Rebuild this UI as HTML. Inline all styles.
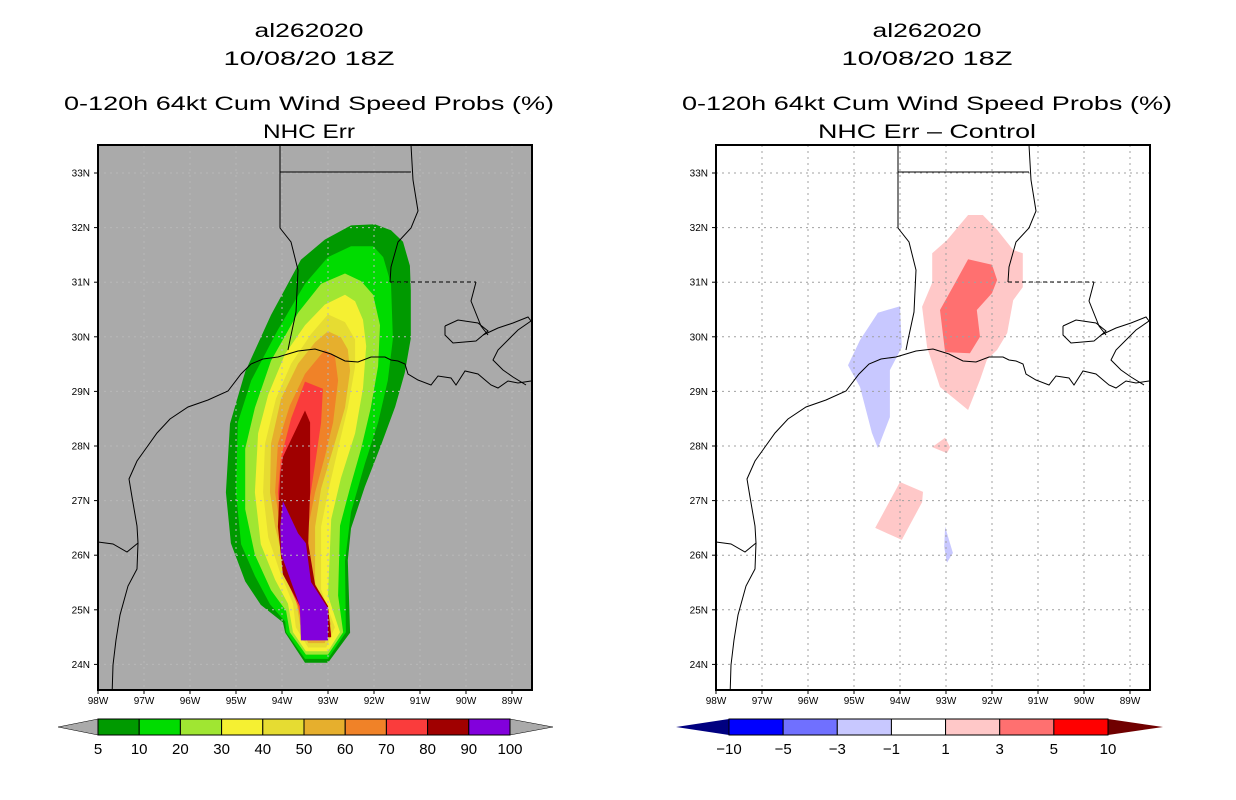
<!DOCTYPE html>
<html><head><meta charset="utf-8">
<style>
html,body{margin:0;padding:0;background:#fff;}
svg{display:block;font-family:"Liberation Sans",sans-serif;}
</style></head>
<body>
<svg id="fig" width="1236" height="800" viewBox="0 0 1236 800" xmlns="http://www.w3.org/2000/svg">
<rect width="1236" height="800" fill="#fff"/>
<g id="L"></g>
<g id="R"></g>
</svg>
<script>
// ---- data ----
var probLevels = [5,10,20,30,40,50,60,70,80,90,100];
var probColors = ['#009a00','#00dc00','#a0e632','#f5f032','#e6dc32','#e6af2d','#f08228','#fa3c3c','#a00000','#8200dc'];
var p5  = [[-92.50,32.04],[-91.98,32.06],[-91.63,31.95],[-91.37,31.74],[-91.22,31.30],[-91.20,30.85],[-91.20,29.97],[-91.33,29.34],[-91.54,28.72],[-91.85,28.01],[-92.20,27.25],[-92.50,26.49],[-92.57,25.91],[-92.52,24.58],[-93.00,24.03],[-93.50,24.03],[-93.93,24.58],[-93.98,24.77],[-94.46,25.09],[-94.80,25.52],[-95.11,26.22],[-95.22,27.15],[-95.13,28.41],[-94.80,29.36],[-94.24,30.40],[-93.59,31.41],[-93.07,31.78]];
var p10 = [[-92.50,31.66],[-92.02,31.66],[-91.80,31.46],[-91.63,30.97],[-91.59,29.96],[-91.70,29.20],[-91.91,28.43],[-92.20,27.67],[-92.50,26.79],[-92.63,25.89],[-92.61,24.59],[-93.00,24.10],[-93.50,24.10],[-93.91,24.59],[-93.93,24.78],[-94.26,25.10],[-94.59,25.62],[-94.89,26.20],[-95.00,27.15],[-94.96,28.43],[-94.67,29.20],[-94.09,30.13],[-93.50,30.97],[-93.00,31.46]];
var p20 = [[-92.63,31.16],[-92.28,31.02],[-92.02,30.77],[-91.87,30.21],[-91.91,29.46],[-92.07,28.70],[-92.28,27.95],[-92.50,27.30],[-92.74,26.54],[-92.78,25.26],[-92.67,24.59],[-93.00,24.18],[-93.48,24.18],[-93.83,24.59],[-93.91,24.98],[-94.24,25.36],[-94.59,26.01],[-94.80,26.84],[-94.80,27.95],[-94.59,28.70],[-94.24,29.56],[-93.65,30.44],[-93.15,30.97]];
var p30 = [[-92.63,30.77],[-92.41,30.65],[-92.24,30.31],[-92.17,29.83],[-92.24,29.06],[-92.41,28.23],[-92.72,27.41],[-92.93,26.66],[-93.00,25.26],[-92.74,24.59],[-93.00,24.24],[-93.48,24.24],[-93.76,24.59],[-93.87,25.11],[-94.15,25.55],[-94.46,26.20],[-94.59,27.15],[-94.52,28.23],[-94.30,28.94],[-93.93,29.69],[-93.50,30.21],[-93.07,30.59]];
var p40 = [[-93.00,30.41],[-92.63,30.27],[-92.41,29.95],[-92.41,29.45],[-92.57,28.70],[-92.78,27.95],[-93.00,27.15],[-93.15,26.52],[-93.15,25.37],[-92.85,24.68],[-93.04,24.31],[-93.43,24.31],[-93.70,24.68],[-93.76,25.11],[-94.04,25.68],[-94.30,26.33],[-94.41,27.15],[-94.37,28.04],[-94.13,28.87],[-93.80,29.51],[-93.37,30.05]];
var p50 = [[-93.00,30.10],[-92.72,29.99],[-92.57,29.77],[-92.52,29.38],[-92.63,28.70],[-92.89,27.95],[-93.15,27.22],[-93.28,26.52],[-93.28,25.50],[-92.93,24.74],[-93.07,24.39],[-93.43,24.39],[-93.61,24.74],[-93.70,25.19],[-93.93,25.76],[-94.15,26.52],[-94.26,27.15],[-94.24,28.04],[-94.02,28.87],[-93.65,29.51],[-93.28,29.90]];
var p60 = [[-93.07,29.76],[-92.85,29.65],[-92.78,29.20],[-92.89,28.43],[-93.07,27.80],[-93.28,27.15],[-93.43,26.52],[-93.39,25.57],[-93.00,24.80],[-93.11,24.44],[-93.39,24.44],[-93.59,24.80],[-93.65,25.26],[-93.87,25.89],[-94.04,26.52],[-94.15,27.15],[-94.09,28.04],[-93.83,28.74],[-93.50,29.32]];
var p70 = [[-93.50,29.18],[-93.11,29.05],[-93.15,28.43],[-93.28,27.67],[-93.43,26.84],[-93.48,25.89],[-93.33,25.37],[-93.00,25.00],[-92.93,24.53],[-93.50,24.44],[-93.65,25.07],[-93.91,25.57],[-94.02,26.22],[-94.09,27.15],[-94.02,27.80],[-93.80,28.51]];
var p80 = [[-93.50,28.65],[-93.39,28.43],[-93.39,27.15],[-93.43,26.22],[-93.28,25.46],[-93.00,25.07],[-92.93,24.50],[-93.54,24.44],[-93.61,25.07],[-93.98,25.65],[-94.09,26.52],[-94.04,27.48],[-93.98,27.80]];
var p90 = [[-93.98,26.99],[-93.65,26.40],[-93.48,26.22],[-93.37,25.51],[-93.00,25.03],[-93.00,24.44],[-93.59,24.44],[-93.61,25.07],[-94.02,26.02],[-94.04,26.52]];
var probContours = [p5,p10,p20,p30,p40,p50,p60,p70,p80,p90];

var diffLevels = ['−10','−5','−3','−1','1','3','5','10'];
var diffColors = ['#0000ff','#7070ff','#c8c8ff','#ffffff','#ffc8c8','#ff7070','#ff0000'];
var dPos1a = [[-92.52,32.23],[-92.20,32.23],[-91.89,31.96],[-91.54,31.59],[-91.33,31.53],[-91.33,30.91],[-91.54,30.67],[-91.67,30.07],[-91.89,29.76],[-92.11,29.58],[-92.26,29.21],[-92.52,28.66],[-93.13,29.08],[-93.41,29.81],[-93.52,30.55],[-93.30,30.99],[-93.30,31.53],[-92.98,31.77]];
var dPos1b = [[-93.30,27.98],[-93.02,28.15],[-92.91,27.98],[-92.98,27.87]];
var dPos1c = [[-94.00,27.34],[-93.50,27.16],[-93.52,26.97],[-93.96,26.28],[-94.54,26.50]];
var dPos3 = [[-92.52,31.42],[-92.00,31.32],[-91.89,31.04],[-92.00,30.80],[-92.33,30.49],[-92.26,30.00],[-92.48,29.70],[-93.02,29.72],[-93.13,30.49],[-92.80,30.99]];
var dNeg1a = [[-94.00,30.56],[-93.96,29.81],[-94.22,29.39],[-94.22,28.53],[-94.48,27.96],[-94.61,28.24],[-94.87,29.08],[-95.13,29.48],[-94.87,29.94],[-94.48,30.44]];
var dNeg1b = [[-93.02,26.52],[-92.85,26.04],[-92.98,25.86],[-93.04,26.15]];
var diffShapes = [[dPos1a,'#ffc8c8'],[dPos1b,'#ffc8c8'],[dPos1c,'#ffc8c8'],[dNeg1a,'#c8c8ff'],[dNeg1b,'#c8c8ff'],[dPos3,'#ff7070']];

var latTicks = [33,32,31,30,29,28,27,26,25,24];
var lonTicks = [98,97,96,95,94,93,92,91,90,89];

// map outline polylines (pixel offsets relative to panel frame origin at x=98,y=145)
var coastTX = [[14,552],[15,520],[18,495],[22,470],[30,441],[39,424],[40,398],[39,381],[34,352],[31,334],[39,316],[49,302],[59,288],[72,274],[90,262],[110,255],[130,246],[143,229],[153,219],[165,214],[180,212],[190,209],[200,206],[217,204],[233,209],[247,216],[260,217],[273,212],[287,212],[293,215],[300,216],[307,219],[310,229],[320,235],[333,240],[340,231],[353,233],[358,240],[367,226],[380,229],[393,240],[400,243],[410,236],[420,238],[433,236]];
var riverRio = [[0,397],[15,399],[29,407],[40,398]];
var sabine = [[182,0],[182,83],[193,97],[200,125],[198,167],[192,195],[190,205]];
var arkLine = [[182,27],[313,27]];
var missR = [[313,0],[315,35],[320,66],[313,83],[300,97],[293,122],[292,137]];
var laMs = [[292,137],[378,137]];
var pearl = [[378,137],[373,156],[383,181],[390,190]];
var lakeP = [[347,181],[360,175],[380,178],[390,186],[378,196],[355,198],[347,190],[347,181]];
var delta = [[385,190],[400,183],[415,178],[430,172],[433,176],[420,185],[410,195],[400,205],[395,215],[405,225],[415,232],[428,240]];

function proj(ox){
  return {x:function(lon){return ox+(lon+98)*46;}, y:function(lat){return 173+(33-lat)*54.6;}};
}
var NS='http://www.w3.org/2000/svg';
function mk(tag,attrs,parent){var e=document.createElementNS(NS,tag);for(var k in attrs)e.setAttribute(k,attrs[k]);parent.appendChild(e);return e;}
function ptsLL(arr,P){return arr.map(function(p){return P.x(p[0]).toFixed(1)+','+P.y(p[1]).toFixed(1);}).join(' ');}
function ptsPx(arr,ox){return arr.map(function(p){return (ox+p[0])+','+(145+p[1]);}).join(' ');}

function panel(g,ox,gray,sub){
  var P=proj(ox);
  var W=434,H=545,top=145;
  var clipId='clip'+ox;
  var defs=mk('defs',{},g);
  var cp=mk('clipPath',{id:clipId},defs);
  mk('rect',{x:ox,y:top,width:W,height:H},cp);
  var bg=mk('rect',{x:ox,y:top,width:W,height:H,fill:gray?'#aaaaaa':'#ffffff'},g);
  
  
  var body=mk('g',{'clip-path':'url(#'+clipId+')'},g);
  if(gray){
    probContours.forEach(function(c,i){
      var pg=mk('polygon',{points:ptsLL(c,P),fill:probColors[i]},body);
      
      
    });
  } else {
    diffShapes.forEach(function(s,i){
      var pg=mk('polygon',{points:ptsLL(s[0],P),fill:s[1]},body);
      
      
    });
  }
  // grid
  lonTicks.forEach(function(l){
    var x=P.x(-l);
    var gl=mk('line',{x1:x,y1:top,x2:x,y2:top+H,stroke:gray?'#b8b8b8':'#a0a0a0','stroke-width':1,'stroke-dasharray':'2,4'},body);
    
    
  });
  latTicks.forEach(function(l){
    var y=P.y(l);
    var gl=mk('line',{x1:ox,y1:y,x2:ox+W,y2:y,stroke:gray?'#b8b8b8':'#a0a0a0','stroke-width':1,'stroke-dasharray':'2,4'},body);
    
    
  });
  // map lines
  var ml=mk('g',{fill:'none',stroke:'#000','stroke-width':1},body);
  
  
  [coastTX,riverRio,sabine,arkLine,missR,pearl,lakeP,delta].forEach(function(a){mk('polyline',{points:ptsPx(a,ox)},ml);});
  mk('polyline',{points:ptsPx(laMs,ox),'stroke-dasharray':'4,3'},ml);
  // frame
  var fr=mk('rect',{x:ox,y:top,width:W,height:H,fill:'none',stroke:'#000','stroke-width':2},g);
  
  
  // ticks & labels
  latTicks.forEach(function(l){
    var y=P.y(l);
    mk('line',{x1:ox-4,y1:y,x2:ox,y2:y,stroke:'#000'},g);
    var t=mk('text',{x:ox-8,y:y+3.5,'font-size':10,'text-anchor':'end',fill:'#000'},g);
    t.textContent=l+'N';
    
    
  });
  lonTicks.forEach(function(l){
    var x=P.x(-l);
    mk('line',{x1:x,y1:top+H,x2:x,y2:top+H+4,stroke:'#000'},g);
    var t=mk('text',{x:x,y:top+H+14,'font-size':10,'text-anchor':'middle',fill:'#000'},g);
    t.textContent=l+'W';
    
    
  });
  // titles
  var cx=ox+211;
  var titles=[['al262020',37,109],['10/08/20 18Z',65,171],['0-120h 64kt Cum Wind Speed Probs (%)',110,490],[sub,138,sub.length>8?218:92]];
  titles.forEach(function(tt,i){
    var t=mk('text',{x:cx,y:tt[1],'font-size':19,'text-anchor':'middle',fill:'#000',textLength:tt[2],lengthAdjust:'spacingAndGlyphs'},g);
    t.textContent=tt[0];
    
    
  });
}

function probBar(g){
  var x0=98,x1=510,y0=719,y1=735,n=probColors.length,w=(x1-x0)/n;
  var tl=mk('polygon',{points:'58,727 '+x0+','+y0+' '+x0+','+y1,fill:'#aaaaaa',stroke:'#000','stroke-width':0.5},g);
  
  
  var tr=mk('polygon',{points:'553,727 '+x1+','+y0+' '+x1+','+y1,fill:'#aaaaaa',stroke:'#000','stroke-width':0.5},g);
  
  
  probColors.forEach(function(c,i){
    var r=mk('rect',{x:x0+i*w,y:y0,width:w,height:y1-y0,fill:c,stroke:'#000','stroke-width':1},g);
    
    
  });
  probLevels.forEach(function(v,i){
    var t=mk('text',{x:x0+i*w,y:754,'font-size':15,'text-anchor':'middle',fill:'#000'},g);
    t.textContent=v;
    
    
  });
}
function diffBar(g){
  var x0=729,x1=1108,y0=719,y1=735,n=diffColors.length,w=(x1-x0)/n;
  var tl=mk('polygon',{points:'676,727 '+x0+','+y0+' '+x0+','+y1,fill:'#000080'},g);
  
  
  var tr=mk('polygon',{points:'1163,727 '+x1+','+y0+' '+x1+','+y1,fill:'#700000'},g);
  
  
  diffColors.forEach(function(c,i){
    var r=mk('rect',{x:x0+i*w,y:y0,width:w,height:y1-y0,fill:c,stroke:'#000','stroke-width':1},g);
    
    
  });
  diffLevels.forEach(function(v,i){
    var t=mk('text',{x:x0+i*w,y:754,'font-size':15,'text-anchor':'middle',fill:'#000'},g);
    t.textContent=v;
    
    
  });
}
var L=document.getElementById('L'),R=document.getElementById('R');
panel(L,98,true,'NHC Err');
panel(R,716,false,'NHC Err – Control');
probBar(L);
diffBar(R);
</script>
</body></html>
